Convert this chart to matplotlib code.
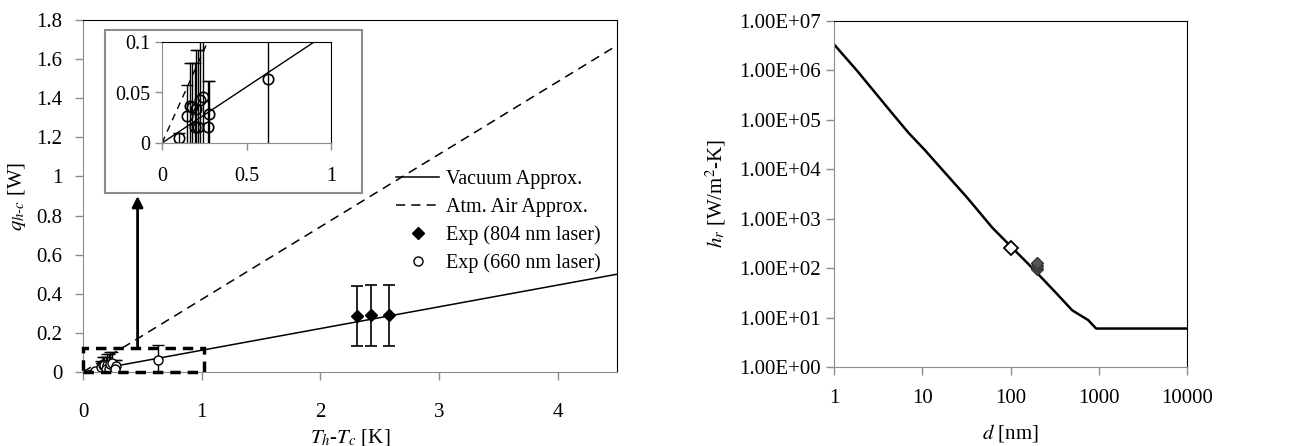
import numpy as np
import matplotlib
matplotlib.use("Agg")
import matplotlib.pyplot as plt
from matplotlib.patches import Rectangle
from matplotlib.ticker import FixedLocator, FuncFormatter

plt.rcParams['font.family'] = ['Liberation Serif', 'DejaVu Serif']
plt.rcParams['mathtext.fontset'] = 'stix'
plt.rcParams['font.size'] = 15

# left panel: heat transfer vs temperature difference
fit_x = [0.0, 4.5]
vacuum_y = [0.0, 0.5]
air_y = [0.0, 1.67]

exp804_x = [2.31, 2.43, 2.58]
exp804_y = [0.286, 0.29, 0.29]
exp804_err = [0.153, 0.155, 0.155]

exp660_x = [0.10, 0.15, 0.165, 0.18, 0.20, 0.195, 0.215, 0.225, 0.245, 0.28, 0.27, 0.63]
exp660_y = [0.005, 0.027, 0.037, 0.036, 0.034, 0.016, 0.016, 0.043, 0.046, 0.029, 0.016, 0.063]
exp660_err = [0.005, 0.03, 0.042, 0.043, 0.058, 0.063, 0.076, 0.06, 0.055, 0.032, 0.045, 0.075]

zoom_box = (1.02, 0.125)   # dashed region shown in the inset
arrow_top = 0.9

# right panel: radiative coefficient vs gap
gap_d = [1, 1.84, 4.62, 7.03, 10.7, 17.7, 31.8, 40.8, 62.1, 100, 156, 218, 331, 501, 759, 933, 1000, 10000]
gap_h = [3.37e6, 9.7e5, 1.32e5, 5.4e4, 2.45e4, 8.9e3, 2.75e3, 1.62e3, 660, 280, 126, 68, 31, 14, 8.9, 6.0, 6.0, 6.0]
open_d = [100]
open_h = [255]
dark_d = [200, 200, 200]
dark_h = [95, 112, 130]

GRAY = '#8c8c8c'


def excel_axes(ax):
    for side in ['left', 'bottom']:
        ax.spines[side].set_color(GRAY)
    for side in ['top', 'right']:
        ax.spines[side].set_color('black')
    ax.tick_params(direction='out', color=GRAY, length=6, width=1, top=False, right=False)


def num_fmt(v, pos):
    s = f"{v:.2f}".rstrip('0').rstrip('.')
    return s


fig = plt.figure(figsize=(13.11, 4.46), dpi=100)

ax = fig.add_axes([83 / 1311, 1 - 372 / 446, 534 / 1311, 352 / 446])
excel_axes(ax)
ax.plot(fit_x, vacuum_y, color='black', lw=1.1, label='Vacuum Approx.')
ax.plot(fit_x, air_y, color='black', lw=1.1, dashes=(6, 4), label='Atm. Air Approx.')
ax.errorbar(exp804_x, exp804_y, yerr=exp804_err, fmt='none', ecolor='black', elinewidth=1.2, capsize=4, capthick=1.2)
ax.errorbar(exp660_x, exp660_y, yerr=exp660_err, fmt='none', ecolor='black', elinewidth=1, capsize=4, capthick=1)
ax.plot(exp804_x, exp804_y, 'D', color='black', ms=6, label='Exp (804 nm laser)')
ax.plot(exp660_x, exp660_y, 'o', mfc='white', mec='black', mew=1, ms=6.5, label='Exp (660 nm laser)')
ax.set_xlim(0, 4.5)
ax.set_ylim(0, 1.8)
ax.xaxis.set_major_locator(FixedLocator([0, 1, 2, 3, 4]))
ax.yaxis.set_major_locator(FixedLocator(np.arange(0, 1.81, 0.2)))
ax.yaxis.set_major_formatter(FuncFormatter(num_fmt))
ax.tick_params(axis='x', pad=16)
ax.tick_params(axis='y', pad=9)
ax.set_xlabel('$T_h$-$T_c$ [K]', labelpad=4)
ax.set_ylabel(r'$q_{h\text{-}c}$ [W]', labelpad=6)

ax.add_patch(Rectangle((0, 0), zoom_box[0], zoom_box[1], fill=False, ec='black',
                       lw=2.5, ls=(0, (3, 2)), clip_on=False, zorder=5))
ax.annotate('', xy=(0.46, arrow_top), xytext=(0.46, zoom_box[1]),
            arrowprops=dict(arrowstyle='-|>', color='black', lw=2, mutation_scale=16,
                            shrinkA=0, shrinkB=0))

leg = ax.legend(loc='upper left', bbox_to_anchor=(396 / 1311, 1 - 170 / 446),
                bbox_transform=fig.transFigure, frameon=False, fontsize=14.5,
                borderpad=0, borderaxespad=0, handlelength=2.15, handletextpad=0.35,
                labelspacing=0.42)

# inset
fig.patches.append(Rectangle((105 / 1311, 1 - 193 / 446), 257 / 1311, 163 / 446,
                             transform=fig.transFigure, fill=True, fc='white', ec=GRAY, lw=1.5,
                             zorder=3))
ins = fig.add_axes([162 / 1311, 1 - 143 / 446, 169 / 1311, 101 / 446], zorder=4)
excel_axes(ins)
ins.plot(fit_x, vacuum_y, color='black', lw=1)
ins.plot(fit_x, air_y, color='black', lw=1, dashes=(5, 4))
ins.errorbar(exp660_x, exp660_y, yerr=exp660_err, fmt='none', ecolor='black', elinewidth=1, capsize=4, capthick=1)
ins.plot(exp660_x, exp660_y, 'o', mfc='none', mec='black', mew=1.2, ms=7.5)
ins.set_xlim(0, 1)
ins.set_ylim(0, 0.1)
ins.xaxis.set_major_locator(FixedLocator([0, 0.5, 1]))
ins.yaxis.set_major_locator(FixedLocator([0, 0.05, 0.1]))
ins.xaxis.set_major_formatter(FuncFormatter(num_fmt))
ins.yaxis.set_major_formatter(FuncFormatter(num_fmt))
ins.tick_params(labelsize=14.5, length=5)
ins.tick_params(axis='x', pad=12)

# right panel
ax2 = fig.add_axes([834 / 1311, 1 - 367 / 446, 353 / 1311, 346 / 446])
excel_axes(ax2)
ax2.plot(gap_d, gap_h, color='black', lw=1.8)
ax2.plot(open_d, open_h, 'D', mfc='white', mec='black', mew=1.3, ms=7)
ax2.plot(dark_d, dark_h, 'D', mfc='#555555', mec='#333333', mew=1, ms=6.5)
ax2.set_xscale('log')
ax2.set_yscale('log')
ax2.set_xlim(1, 10000)
ax2.set_ylim(1, 1e7)
ax2.xaxis.set_major_locator(FixedLocator([1, 10, 100, 1000, 10000]))
ax2.xaxis.set_minor_locator(FixedLocator([]))
ax2.yaxis.set_major_locator(FixedLocator([10.0 ** k for k in range(8)]))
ax2.yaxis.set_minor_locator(FixedLocator([]))
ax2.xaxis.set_major_formatter(FuncFormatter(lambda v, p: f"{v:.0f}"))
ax2.yaxis.set_major_formatter(FuncFormatter(lambda v, p: f"{v:.2E}"))
ax2.tick_params(axis='x', pad=10)
ax2.set_xlabel('$d$ [nm]', labelpad=10)
ax2.set_ylabel('$h_r$ [W/m$^2$-K]', labelpad=8)

fig.savefig('out.png', dpi=100)
